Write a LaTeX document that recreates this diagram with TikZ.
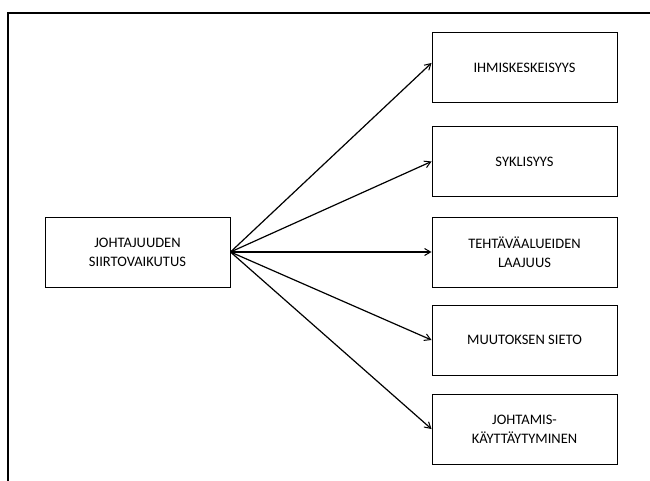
\documentclass[tikz,border=0pt]{standalone}
\usepackage{fontspec}
\setmainfont{Carlito}
\usetikzlibrary{arrows.meta}
\begin{document}
\begin{tikzpicture}[x=1pt,y=-1pt,
  box/.style={draw, line width=1pt, minimum width=185pt, minimum height=70pt,
    align=center, inner sep=2pt, font=\fontsize{14.5}{19}\selectfont},
  link/.style={line width=1.2pt, -{Straight Barb[length=6pt,width=7pt,line width=1pt]}}]
\useasboundingbox (0,0) rectangle (650,481);
% page frame: top and left rules only
\draw[line width=2pt] (650,13) -- (8,13) -- (8,481);
% source box
\node[box] (src) at (137.5,252) {JOHTAJUUDEN\\SIIRTOVAIKUTUS};
% target boxes
\node[box] (t1) at (524.5,68) {IHMISKESKEISYYS};
\node[box] (t2) at (524.5,161.5) {SYKLISYYS};
\node[box] (t3) at (524.5,252) {TEHTÄVÄALUEIDEN\\LAAJUUS};
\node[box] (t4) at (524.5,340) {MUUTOKSEN SIETO};
\node[box] (t5) at (524.5,429) {JOHTAMIS-\\KÄYTTÄYTYMINEN};
% connectors
\draw[link] (src.east) -- ([yshift=5pt]t1.west);
\draw[link] (src.east) -- (t2.west);
\draw[link] (src.east) -- (t3.west);
\draw[link] (src.east) -- (t4.west);
\draw[link] (src.east) -- (t5.west);
\end{tikzpicture}
\end{document}
